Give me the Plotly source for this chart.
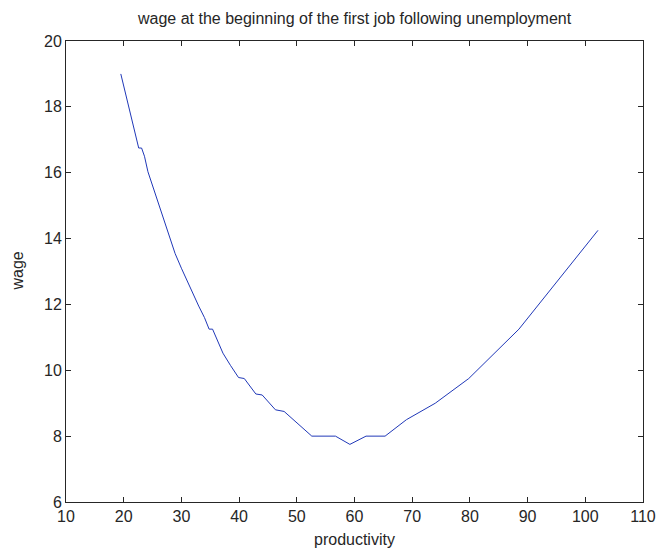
import plotly.graph_objects as go

# productivity grid and the starting wage after an unemployment spell
productivity = [19.5, 20.0, 20.5, 21.0, 21.5, 22.0, 22.6, 23.1, 23.6, 24.2,
                25.0, 26.0, 27.0, 28.0, 28.9, 30.0, 31.0, 32.0, 33.0, 34.0,
                34.8, 35.4, 36.2, 37.2, 38.5, 39.9, 40.9, 42.0, 42.9, 44.0,
                45.2, 46.3, 47.8, 50.0, 52.6, 56.7, 59.2, 62.0, 65.3, 69.0,
                74.0, 79.8, 88.5, 102.2]
wage = [19.0, 18.65, 18.3, 17.92, 17.6, 17.25, 16.75, 16.75, 16.5, 16.03,
        15.6, 15.1, 14.55, 14.02, 13.55, 13.1, 12.7, 12.3, 11.95, 11.6,
        11.25, 11.25, 10.9, 10.52, 10.15, 9.78, 9.75, 9.5, 9.28, 9.25,
        9.02, 8.8, 8.75, 8.4, 8.0, 8.0, 7.75, 8.0, 8.0, 8.5,
        9.0, 9.75, 11.25, 14.25]

x_ticks = [10, 20, 30, 40, 50, 60, 70, 80, 90, 100, 110]
y_ticks = [6, 8, 10, 12, 14, 16, 18, 20]

FONT = "Liberation Sans, Arial, Helvetica, sans-serif"
INK = "#262626"
TICK_SIZE = 16
TEXT_SIZE = 16

fig = go.Figure(go.Scatter(
    x=productivity, y=wage, mode="lines",
    line=dict(color="#2038b8", width=1),
    showlegend=False, hoverinfo="x+y",
))

axis_style = dict(
    showline=True, linecolor=INK, linewidth=1, mirror="ticks",
    ticks="inside", ticklen=5, tickcolor=INK, tickwidth=1,
    showgrid=False, zeroline=False,
    tickfont=dict(family=FONT, size=TICK_SIZE, color=INK),
)

fig.update_xaxes(range=[10, 110], tickvals=x_ticks, **axis_style)
fig.update_yaxes(range=[6, 20], tickvals=y_ticks, **axis_style)

fig.update_layout(
    width=668, height=552,
    margin=dict(l=66, r=17, t=41, b=50),
    paper_bgcolor="white", plot_bgcolor="white",
    font=dict(family=FONT, size=TEXT_SIZE, color=INK),
    annotations=[
        dict(text="wage at the beginning of the first job following unemployment",
             xref="paper", yref="paper", x=0.5, y=1.0, yshift=23,
             showarrow=False, xanchor="center", yanchor="middle",
             font=dict(family=FONT, size=TEXT_SIZE, color=INK)),
        dict(text="productivity", xref="paper", yref="paper", x=0.5, y=0,
             yshift=-37, showarrow=False, xanchor="center", yanchor="middle",
             font=dict(family=FONT, size=TEXT_SIZE, color=INK)),
        dict(text="wage", xref="paper", yref="paper", x=0, y=0.5,
             xshift=-49, showarrow=False, textangle=-90,
             xanchor="center", yanchor="middle",
             font=dict(family=FONT, size=TEXT_SIZE, color=INK)),
    ],
)

fig.write_html("out.html")
